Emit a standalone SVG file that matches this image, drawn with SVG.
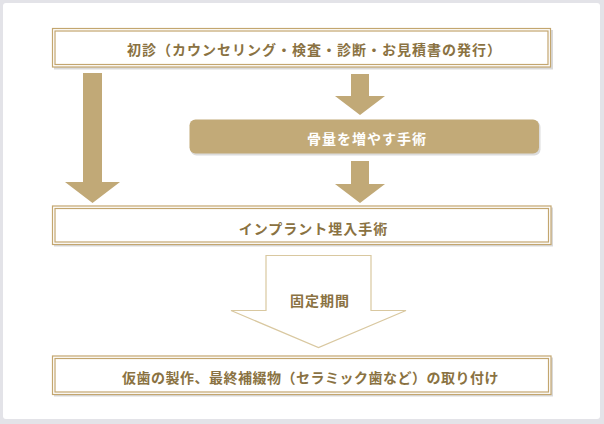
<svg xmlns="http://www.w3.org/2000/svg" width="604" height="424" viewBox="0 0 604 424">
  <defs>
    <style>
      .frame-bg { fill: #e3e3e8; }
      .frame { fill: #ffffff; }
      .box-shadow { fill: #d9d9d9; }
      .box-outer { fill: #ffffff; stroke: #c3a66f; stroke-width: 1.2; }
      .box-inner { fill: none; stroke: #c3a66f; stroke-width: 1.2; }
      .label { font-family: "Noto Sans CJK JP", "Noto Sans", sans-serif; font-weight: bold; font-size: 14px; letter-spacing: 1px; fill: #8a7242; text-anchor: middle; dominant-baseline: central; }
      .label-white { fill: #ffffff; }
      .solid-arrow { fill: #c1a977; }
      .pill { fill: #c2aa78; }
      .pill-shadow { fill: #dcdcdc; }
      .hollow-arrow { fill: #ffffff; stroke: #d9c8a0; stroke-width: 1.2; }
    </style>
  </defs>

  <rect class="frame-bg" x="0" y="0" width="604" height="424"/>
  <rect class="frame" x="3" y="3" width="597" height="416" rx="3"/>

  <g id="connectors">
    <polygon class="solid-arrow" points="83,73 102,73 102,182 120,182 92.5,203 65,182 83,182"/>
    <polygon class="solid-arrow" points="351,74 369,74 369,96 385,96 360,115 335,96 351,96"/>
    <polygon class="solid-arrow" points="351,161 369,161 369,184 385,184 360,203 335,184 351,184"/>
    <polygon class="hollow-arrow" points="266,255.5 371,255.5 371,310.5 406,310.5 318.5,347.5 231,310.5 266,310.5"/>
    <text class="label" x="320" y="300">固定期間</text>
  </g>

  <g id="node-shoshin">
    <rect class="box-shadow" x="54" y="30" width="499" height="39.5"/>
    <rect class="box-outer" x="52.5" y="28.5" width="498" height="38.5"/>
    <rect class="box-inner" x="55" y="31" width="493" height="33.5"/>
    <text class="label" x="314.5" y="49">初診（カウンセリング・検査・診断・お見積書の発行）</text>
  </g>

  <g id="node-bone">
    <rect class="pill-shadow" x="190.5" y="121" width="350" height="34.5" rx="6"/>
    <rect class="pill" x="189.5" y="119.5" width="349.5" height="34" rx="6"/>
    <text class="label label-white" x="367" y="137.5">骨量を増やす手術</text>
  </g>

  <g id="node-implant">
    <rect class="box-shadow" x="54" y="207.5" width="499" height="39"/>
    <rect class="box-outer" x="52.5" y="206" width="498.5" height="38.5"/>
    <rect class="box-inner" x="55" y="208.5" width="493.5" height="33.5"/>
    <text class="label" x="313.5" y="228">インプラント埋入手術</text>
  </g>

  <g id="node-final">
    <rect class="box-shadow" x="54" y="357.5" width="499" height="39"/>
    <rect class="box-outer" x="52.5" y="356" width="498.5" height="38.5"/>
    <rect class="box-inner" x="55" y="358.5" width="493.5" height="33.5"/>
    <text class="label" x="310.5" y="376.5" style="letter-spacing:0.5px">仮歯の製作、最終補綴物（セラミック歯など）の取り付け</text>
  </g>
</svg>
